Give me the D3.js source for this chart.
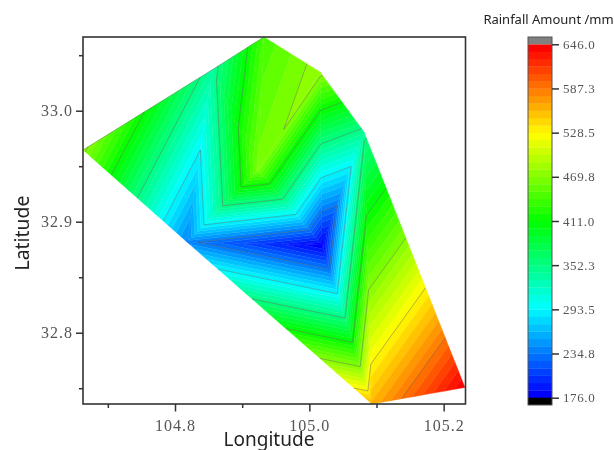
<!DOCTYPE html>
<html>
<head>
<meta charset="utf-8">
<script src="https://cdn.jsdelivr.net/npm/d3@7"></script>
<style>
    html, body { margin: 0; padding: 0; background: #fff; }
    svg { display: block; filter: blur(0.4px); }
    .axis path, .axis line { stroke: #333; }
    .axis text { font-family: "Liberation Serif", serif; fill: #555; }
    .title { font-family: "Noto Sans", sans-serif; fill: #222; }
</style>
</head>
<body>
<div id="chart"></div>
<script>
// rain gauge stations
const stationLon = [104.663, 104.855, 104.9325, 105.0159, 105.0814, 105.2317, 105.0933, 104.8179, 105.0188, 104.9236];
const stationLat = [32.9646, 33.0367, 33.0664, 33.0349, 32.9808, 32.7507, 32.7358, 32.8817, 32.8790, 32.9466];
const stationRain = [475, 340, 443, 478, 345, 646, 560, 240, 176, 464];
// mesh between the stations (indexes)
const triangles = [
    [0, 1, 7], [1, 7, 9], [1, 2, 9], [2, 3, 9], [3, 9, 8],
    [7, 9, 8], [3, 4, 8], [4, 8, 6], [7, 8, 6], [4, 5, 6]
];
const upperEdge = [0, 1, 2];

const lonMajor = [104.8, 105.0, 105.2];
const lonMinor = [104.7, 104.9, 105.1];
const latMajor = [32.8, 32.9, 33.0];
const latMinor = [32.75, 32.85, 32.95, 33.05];
const legendTicks = [176.0, 234.8, 293.5, 352.3, 411.0, 469.8, 528.5, 587.3, 646.0];
const rampColors = ['#0000ff', '#00ffff', '#00ff00', '#ffff00', '#ff0000'];

const bandCount = 48;
const minRain = 176, maxRain = 646;

const width = 614, height = 450;
const plot = { left: 83, right: 465.5, top: 37, bottom: 404 };
const bar = { left: 528, right: 552, top: 44.3, bottom: 397.7 };

const svg = d3.select('#chart').append('svg')
    .attr('width', width)
    .attr('height', height);

const x = d3.scaleLinear().domain([104.663, 105.2325]).range([plot.left, plot.right]);
const y = d3.scaleLinear().domain([32.7358, 33.0664]).range([plot.bottom, plot.top]);
const ramp = d3.scaleLinear().domain([0, 0.25, 0.5, 0.75, 1]).range(rampColors);
const bandScale = d3.scaleLinear().domain([0, bandCount]).range([minRain, maxRain]);
const legendY = d3.scaleLinear().domain([minRain, maxRain]).range([bar.bottom, bar.top]);

const bands = d3.range(bandCount).map(i => ({
    lo: bandScale(i),
    hi: bandScale(i + 1),
    color: ramp(i / (bandCount - 1))
}));

// keep the part of a polygon on one side of a rain level
function clip(poly, level, keepAbove) {
    const out = [];
    poly.forEach((p, i) => {
        const q = poly[(i + 1) % poly.length];
        const pIn = keepAbove ? p[2] >= level : p[2] <= level;
        const qIn = keepAbove ? q[2] >= level : q[2] <= level;
        if (pIn) out.push(p);
        if (pIn !== qIn) {
            const t = (level - p[2]) / (q[2] - p[2]);
            out.push([p[0] + t * (q[0] - p[0]), p[1] + t * (q[1] - p[1]), level]);
        }
    });
    return out;
}

const corners = triangles.map(t => t.map(i => [stationLon[i], stationLat[i], stationRain[i]]));
const line = d3.line().x(d => x(d[0])).y(d => y(d[1]));

const fills = svg.append('g');
bands.forEach(b => {
    corners.forEach(tri => {
        const part = clip(clip(tri, b.lo, true), b.hi, false);
        if (part.length < 3) return;
        fills.append('path')
            .attr('d', line(part) + 'Z')
            .attr('fill', b.color)
            .attr('stroke', b.color)
            .attr('stroke-width', 0.4);
    });
});

// isolines at the labelled levels
const isolines = svg.append('g');
legendTicks.slice(1, -1).forEach(level => {
    corners.forEach(tri => {
        const pts = [];
        tri.forEach((p, i) => {
            const q = tri[(i + 1) % 3];
            if ((p[2] - level) * (q[2] - level) < 0) {
                const t = (level - p[2]) / (q[2] - p[2]);
                pts.push([p[0] + t * (q[0] - p[0]), p[1] + t * (q[1] - p[1])]);
            }
        });
        if (pts.length === 2) {
            isolines.append('path')
                .attr('d', line(pts))
                .attr('fill', 'none')
                .attr('stroke', '#555')
                .attr('stroke-opacity', 0.6)
                .attr('stroke-width', 0.7);
        }
    });
});

// thin grey rim along the upper left side of the mesh
svg.append('path')
    .attr('d', line(upperEdge.map(i => [stationLon[i], stationLat[i]])))
    .attr('fill', 'none')
    .attr('stroke', '#666')
    .attr('stroke-opacity', 0.6)
    .attr('stroke-width', 0.7);

// frame
svg.append('rect')
    .attr('x', plot.left)
    .attr('y', plot.top)
    .attr('width', plot.right - plot.left)
    .attr('height', plot.bottom - plot.top)
    .attr('fill', 'none')
    .attr('stroke', '#333')
    .attr('stroke-width', 1.6);

// axes
const xAxis = svg.append('g')
    .attr('class', 'axis')
    .attr('transform', 'translate(0,' + plot.bottom + ')')
    .call(d3.axisBottom(x).tickValues(lonMajor).tickFormat(d3.format('.1f')).tickSize(7.5).tickPadding(8));
const yAxis = svg.append('g')
    .attr('class', 'axis')
    .attr('transform', 'translate(' + plot.left + ',0)')
    .call(d3.axisLeft(y).tickValues(latMajor).tickFormat(d3.format('.1f')).tickSize(7).tickPadding(3));
svg.append('g')
    .attr('class', 'axis')
    .attr('transform', 'translate(0,' + plot.bottom + ')')
    .call(d3.axisBottom(x).tickValues(lonMinor).tickFormat('').tickSize(4));
svg.append('g')
    .attr('class', 'axis')
    .attr('transform', 'translate(' + plot.left + ',0)')
    .call(d3.axisLeft(y).tickValues(latMinor).tickFormat('').tickSize(4));
svg.selectAll('.axis path.domain').remove();
svg.selectAll('.axis line').attr('stroke-width', 1.5);
xAxis.selectAll('text').style('font-size', '16px').style('letter-spacing', '1px');
yAxis.selectAll('text').style('font-size', '16px').style('letter-spacing', '1px');

// colour bar
const legend = svg.append('g');
legend.selectAll('rect.band')
    .data(bands)
    .enter().append('rect')
    .attr('class', 'band')
    .attr('x', bar.left)
    .attr('width', bar.right - bar.left)
    .attr('y', d => legendY(d.hi))
    .attr('height', d => legendY(d.lo) - legendY(d.hi) + 0.3)
    .attr('fill', d => d.color);
legend.append('rect')
    .attr('x', bar.left)
    .attr('width', bar.right - bar.left)
    .attr('y', 37)
    .attr('height', bar.top - 37)
    .attr('fill', '#808080');
legend.append('rect')
    .attr('x', bar.left)
    .attr('width', bar.right - bar.left)
    .attr('y', bar.bottom)
    .attr('height', 405 - bar.bottom)
    .attr('fill', '#000');
legend.append('rect')
    .attr('x', bar.left)
    .attr('y', 37)
    .attr('width', bar.right - bar.left)
    .attr('height', 405 - 37)
    .attr('fill', 'none')
    .attr('stroke', '#555')
    .attr('stroke-width', 1);

const legendAxis = svg.append('g')
    .attr('class', 'axis')
    .attr('transform', 'translate(' + bar.right + ',0)')
    .call(d3.axisRight(legendY).tickValues(legendTicks).tickFormat(d3.format('.1f')).tickSize(7).tickPadding(4));
legendAxis.select('path.domain').remove();
legendAxis.selectAll('line').attr('stroke-width', 1.5).attr('stroke', '#555');
legendAxis.selectAll('text').style('font-size', '13px').style('letter-spacing', '0.6px');

// titles
svg.append('text')
    .attr('class', 'title')
    .attr('x', 269)
    .attr('y', 445.5)
    .style('text-anchor', 'middle')
    .style('font-size', '19px')
    .text('Longitude');
svg.append('text')
    .attr('class', 'title')
    .attr('transform', 'translate(29,233) rotate(-90)')
    .style('text-anchor', 'middle')
    .style('font-size', '19.4px')
    .text('Latitude');
svg.append('text')
    .attr('class', 'title')
    .attr('x', 548.5)
    .attr('y', 24)
    .style('text-anchor', 'middle')
    .style('font-size', '13px')
    .text('Rainfall Amount /mm');
</script>
</body>
</html>
